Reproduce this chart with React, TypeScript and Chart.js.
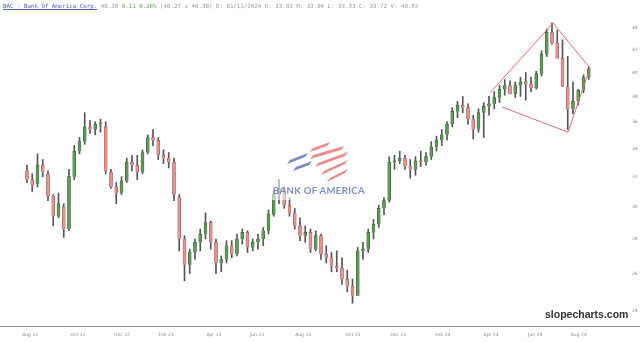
import { useEffect, useRef } from "react";
import { Chart, registerables } from "chart.js";
Chart.register(...registerables);

// Weekly candles, week index 0 = mid Aug 2022
const opens = [32.4,31.8,31.5,32.8,32.2,30.7,29.4,30.0,28.6,32.0,33.8,34.5,35.6,35.4,35.8,35.6,32.3,31.3,30.9,31.7,33.0,32.8,32.3,33.7,34.8,34.6,33.5,33.3,33.0,30.6,28.0,26.5,27.2,27.8,28.3,29.0,27.8,26.6,26.8,27.6,27.1,28.0,28.4,27.5,27.8,28.0,28.5,29.5,30.8,31.2,30.1,29.6,28.8,28.2,28.4,27.4,28.2,27.1,26.9,26.4,26.3,25.7,25.3,24.8,27.3,27.4,28.4,28.9,29.9,30.4,33.0,33.1,33.3,32.7,32.5,33.1,33.0,33.4,34.1,34.6,35.0,35.8,36.8,37.3,37.1,36.2,35.4,36.7,37.2,37.4,37.9,38.6,38.9,38.2,38.9,39.2,39.0,38.7,39.9,41.6,43.6,42.6,41.2,38.8,37.0,37.6,38.5,39.6];
const highs = [32.8,32.2,33.6,33.2,32.4,30.8,30.9,30.2,32.5,34.2,34.8,36.7,36.1,36.0,36.2,36.0,32.5,31.6,32.0,33.3,33.5,33.5,33.9,35.0,35.4,34.8,33.9,33.7,33.3,30.8,28.2,27.4,28.0,28.6,29.6,29.1,28.0,27.0,27.9,27.9,28.3,28.6,28.5,28.0,28.3,28.7,29.8,31.1,31.8,31.3,30.6,29.9,29.3,28.8,28.6,28.5,28.3,27.6,27.2,27.3,26.9,26.2,25.7,27.5,27.8,28.6,29.2,30.1,30.6,33.4,33.5,33.8,33.5,33.2,33.4,33.8,33.7,34.5,34.9,35.4,36.0,37.1,37.6,38.0,37.4,36.5,37.0,37.5,38.0,38.4,38.9,39.4,39.3,39.2,39.6,40.0,39.6,40.1,41.9,43.9,44.5,43.8,42.9,41.4,39.2,38.6,39.8,40.5];
const lows = [31.6,31.0,31.3,32.0,30.4,28.8,29.3,28.1,28.5,31.8,33.6,34.3,35.1,35.0,35.2,32.2,31.2,30.2,30.8,31.6,32.4,31.8,32.2,33.6,34.2,33.2,32.9,32.6,30.4,27.3,25.6,26.0,26.8,27.3,28.0,27.4,26.0,26.1,26.6,26.9,27.0,27.7,27.2,27.3,27.4,27.6,28.3,29.4,30.2,29.9,29.4,28.6,27.9,27.8,27.2,27.3,26.8,26.6,26.1,26.1,25.4,25.0,24.4,24.8,26.8,27.2,28.0,28.7,29.5,30.3,32.5,32.9,32.5,31.9,32.1,32.7,32.8,33.2,33.8,34.2,34.6,35.6,36.3,36.7,35.8,34.7,35.2,34.8,36.5,37.0,37.5,38.1,38.2,37.9,38.0,37.7,38.4,38.6,39.7,41.4,42.5,41.8,38.8,35.4,36.6,37.3,38.3,39.4];
const closes = [31.8,31.4,32.8,32.3,30.7,29.4,30.2,28.6,32.0,33.8,34.5,35.6,35.4,35.8,35.9,32.4,31.3,30.9,31.7,33.0,32.8,32.3,33.7,34.8,34.6,33.5,33.3,33.0,30.8,28.0,26.5,27.2,27.8,28.3,29.0,27.8,26.6,26.8,27.6,27.1,28.0,28.4,27.5,27.8,28.0,28.5,29.5,30.8,31.2,30.1,29.6,28.8,28.2,28.4,27.4,28.2,27.1,26.9,26.4,26.3,25.7,25.3,24.8,27.3,27.4,28.4,28.9,29.9,30.4,33.0,33.1,33.3,32.7,32.5,33.1,33.0,33.4,34.1,34.6,35.0,35.8,36.8,37.3,37.1,36.2,35.4,36.7,37.2,37.4,37.9,38.6,38.9,38.2,38.9,39.2,39.0,38.7,39.9,41.6,43.6,42.6,41.2,38.8,37.0,37.6,38.5,39.6,40.3];

const xTickLabels = ["Aug 22","Oct 22","Dec 22","Feb 23","Apr 23","Jun 23","Aug 23","Oct 23","Dec 23","Feb 24","Apr 24","Jun 24","Aug 24"];
const xTickWeeks = [0.6,9.7,18.1,26.5,35.6,43.8,52.6,62.1,70.7,79.2,88.4,96.8,105.1];
const yTicks = [24,26,28,30,32,34,36,38,40,42,44];

// Trendlines (week index, price)
const upperLeftLine = [{ x: 88.2, y: 38.3 }, { x: 100.2, y: 44.47 }];
const rightLine = [{ x: 100.2, y: 44.47 }, { x: 107.24, y: 40.39 }, { x: 103.05, y: 35.2 }];
const lowerLine = [{ x: 90.5, y: 37.15 }, { x: 103.05, y: 35.2 }];

const UP = "#5f9a5a";
const UP_EDGE = "#2f5f2f";
const DOWN = "#e89090";
const DOWN_EDGE = "#a05050";

export default function App() {
  const ref = useRef<HTMLCanvasElement | null>(null);
  useEffect(() => {
    document.body.style.margin = "0";
    const canvas = ref.current!;
    const bodies = opens.map((o, i) => ({ x: i, y: [Math.min(o, closes[i]), Math.max(o, closes[i])] }));
    const wicks = highs.map((h, i) => ({ x: i, y: [lows[i], h] }));
    const bodyColors = opens.map((o, i) => (closes[i] >= o ? UP : DOWN));
    const bodyEdges = opens.map((o, i) => (closes[i] >= o ? UP_EDGE : DOWN_EDGE));

    const bottomLine = {
      id: "bottomLine",
      afterDraw(chart: any) {
        const c = chart.ctx;
        const y = Math.round(chart.chartArea.bottom) + 0.5;
        c.save();
        c.strokeStyle = "#9a9a9a";
        c.lineWidth = 1;
        c.beginPath();
        c.moveTo(0, y);
        c.lineTo(chart.width, y);
        c.stroke();
        c.restore();
      },
    };
    const logo = {
      id: "logo",
      afterDatasetsDraw(chart: any) {
        const c = chart.ctx;
        c.save();
        c.fillStyle = "rgba(255,255,255,0.55)";
        c.fillRect(268, 138, 102, 62);
        const band = (x1: number, y1: number, x2: number, y2: number, t: number, col: string) => {
          c.fillStyle = col;
          c.beginPath();
          c.moveTo(x1, y1);
          c.lineTo(x2, y2);
          c.lineTo(x2 - 3, y2 + t);
          c.lineTo(x1 - 3, y1 + t);
          c.closePath();
          c.fill();
        };
        const red = "rgba(232,120,120,0.85)";
        const blue = "rgba(95,115,180,0.85)";
        band(313, 148, 330, 142, 4, red);
        band(290, 160, 308, 153, 4, blue);
        band(313, 155, 344, 146, 4, red);
        band(296, 167, 312, 161, 4, blue);
        band(318, 163, 348, 152, 4, red);
        band(324, 171, 348, 160, 4, red);
        band(330, 178, 348, 169, 4, red);
        c.restore();
      },
    };

    const chart = new Chart(canvas, {
      type: "bar",
      data: {
        datasets: [
          { type: "line" as any, data: upperLeftLine, borderColor: "#e06a6a", borderWidth: 1, pointRadius: 0, order: 0 } as any,
          { type: "line" as any, data: rightLine, borderColor: "#e06a6a", borderWidth: 1, pointRadius: 0, order: 0 } as any,
          { type: "line" as any, data: lowerLine, borderColor: "#e06a6a", borderWidth: 1, pointRadius: 0, order: 0 } as any,
          {
            data: bodies as any,
            backgroundColor: bodyColors,
            borderColor: bodyEdges,
            borderWidth: 0.6,
            barThickness: 3,
            grouped: false,
            order: 1,
          } as any,
          {
            data: wicks as any,
            backgroundColor: "#555",
            barThickness: 1,
            grouped: false,
            order: 2,
          } as any,
        ],
      },
      options: {
        animation: false,
        responsive: false,
        layout: { padding: { top: 14, left: 0, right: 0, bottom: 0 } },
        plugins: { legend: { display: false }, tooltip: { enabled: false } },
        scales: {
          x: {
            type: "linear",
            offset: false,
            min: -5.14,
            max: 111.43,
            grid: { display: false, offset: false, drawTicks: false },
            border: { display: false },
            afterFit(s: any) {
              s.height = 16;
              s.paddingLeft = 0;
              s.paddingRight = 0;
            },
            afterBuildTicks(s: any) { s.ticks = xTickWeeks.map((v) => ({ value: v })); },
            ticks: {
              autoSkip: false,
              maxRotation: 0,
              padding: 6,
              color: "#8a8a8a",
              font: { size: 4.5, family: "DejaVu Sans" },
              callback: (_v: any, i: number) => xTickLabels[i],
            },
          },
          y: {
            type: "logarithmic",
            position: "right",
            min: 23.24,
            max: 45.34,
            grid: { display: false, drawTicks: false },
            border: { display: false },
            afterFit(s: any) {
              s.width = 28;
              s.paddingTop = 0;
              s.paddingBottom = 0;
            },
            afterBuildTicks(s: any) { s.ticks = yTicks.map((v) => ({ value: v })); },
            ticks: {
              autoSkip: false,
              padding: 20,
              color: "#8a8a8a",
              font: { size: 4.5, family: "DejaVu Sans" },
              callback: (v: any) => String(v),
            },
          },
        },
      },
      plugins: [bottomLine, logo],
    });
    return () => chart.destroy();
  }, []);

  return (
    <div style={{ position: "relative", width: 640, height: 342, background: "#fff", overflow: "hidden" }}>
      <canvas ref={ref} width={640} height={342} style={{ display: "block" }} />
      <div
        style={{
          position: "absolute",
          left: 3,
          top: 2,
          fontFamily: "DejaVu Sans Mono",
          fontSize: 5.8,
          color: "#9a9a9a",
          whiteSpace: "nowrap",
          lineHeight: "8px",
        }}
      >
        <span style={{ color: "#5566b0", textDecoration: "underline" }}>BAC - Bank Of America Corp.</span>{" "}
        40.38 <span style={{ color: "#6aa56a" }}>0.11 0.28%</span> (40.27 x 40.30) D: 01/11/2024 O: 33.93 H: 33.04 L: 33.33 C: 33.72 V: 40.83
      </div>
      <div
        style={{
          position: "absolute",
          left: 273,
          top: 185,
          fontFamily: "Lato",
          fontWeight: 700,
          fontSize: 9.6,
          letterSpacing: 0.3,
          color: "rgba(95,115,185,0.8)",
          whiteSpace: "nowrap",
        }}
      >
        BANK OF AMERICA
      </div>
      <div
        style={{
          position: "absolute",
          left: 545,
          top: 308,
          fontFamily: "Liberation Sans",
          fontSize: 10.5,
          fontWeight: 700,
          color: "#333",
          whiteSpace: "nowrap",
        }}
      >
        slopecharts.com
      </div>
    </div>
  );
}
